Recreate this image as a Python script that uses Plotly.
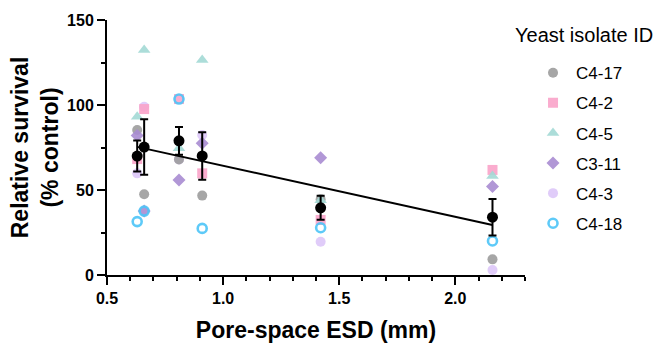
import numpy as np
import plotly.graph_objects as go

# ---- data ----
esd_mm = [0.63, 0.66, 0.81, 0.91, 1.42, 2.16]
isolate_ids = ["C4-17", "C4-2", "C4-5", "C3-11", "C4-3", "C4-18"]
c4_17 = [85.3, 47.5, 68.0, 46.7, 44.5, 9.2]
c4_2 = [68.2, 97.6, 103.5, 59.8, 32.4, 61.8]
c4_5 = [93.1, 132.4, 74.5, 126.5, 44.0, 58.2]
c3_11 = [82.0, 37.6, 55.9, 77.5, 69.0, 52.0]
c4_3 = [59.8, 99.0, 68.0, 82.4, 19.6, 2.9]
c4_18 = [31.4, 37.6, 103.5, 27.4, 27.8, 20.0]
x_ticks = [0.5, 1.0, 1.5, 2.0]
x_tick_labels = ["0.5", "1.0", "1.5", "2.0"]
y_ticks = [0, 50, 100, 150]

series = [c4_17, c4_2, c4_5, c3_11, c4_3, c4_18]
styles = [
    dict(symbol="circle", color="#9c9c9c", size=10),
    dict(symbol="square", color="#f9a3c9", size=10),
    dict(symbol="triangle-up", color="#a3d9d5", size=11),
    dict(symbol="diamond", color="#a98cd2", size=10),
    dict(symbol="circle", color="#ddc7f8", size=10),
    dict(symbol="circle-open", color="#4dc4f7", size=9, line=dict(width=2.6, color="#4dc4f7")),
]
draw_order = [4, 0, 1, 2, 3, 5]

FONT = "Liberation Sans, Arial, Helvetica, sans-serif"

fig = go.Figure()
for i in draw_order:
    fig.add_trace(go.Scatter(
        x=esd_mm, y=series[i], mode="markers", name=isolate_ids[i],
        legendgroup=isolate_ids[i], legendrank=i + 1,
        marker=dict(opacity=0.9, **styles[i]), cliponaxis=False,
    ))

arr = np.array(series)
means = arr.mean(axis=0)
sem = arr.std(axis=0, ddof=1) / np.sqrt(arr.shape[0])

# linear regression through all points
xs = np.tile(esd_mm, arr.shape[0])
slope, intercept = np.polyfit(xs, arr.flatten(), 1)
fit_x = np.array([min(esd_mm), max(esd_mm)])
fig.add_trace(go.Scatter(x=fit_x, y=slope * fit_x + intercept, mode="lines",
                         line=dict(color="black", width=2), showlegend=False))

fig.add_trace(go.Scatter(
    x=esd_mm, y=means, mode="markers", showlegend=False, cliponaxis=False,
    marker=dict(symbol="circle", color="black", size=11),
    error_y=dict(type="data", array=sem, color="black", thickness=2, width=4),
))

fig.add_annotation(text="Yeast isolate ID", x=0.971, y=0.941, xref="paper", yref="paper",
                   xanchor="left", yanchor="middle", showarrow=False,
                   font=dict(family=FONT, size=20, color="black"))

fig.update_layout(
    width=655, height=344,
    margin=dict(l=107, r=130, t=20, b=69, autoexpand=False),
    plot_bgcolor="white", paper_bgcolor="white",
    font=dict(family=FONT, color="black"),
    legend=dict(x=1.012, y=0.862, xanchor="left", yanchor="top",
                font=dict(family=FONT, size=17, color="black"),
                itemwidth=36, tracegroupgap=5, bgcolor="rgba(0,0,0,0)"),
    showlegend=True,
)
fig.update_xaxes(
    range=[0.5, 2.3], tickvals=x_ticks, ticktext=x_tick_labels, automargin=False,
    showline=True, linecolor="black", linewidth=2, showgrid=False, zeroline=False,
    ticks="outside", ticklen=8, tickwidth=2, tickcolor="black",
    tickfont=dict(family=FONT, size=16, weight=700),
    minor=dict(dtick=0.1, tick0=0.5, ticks="outside", ticklen=4, tickwidth=2, tickcolor="black"),
    title=dict(text="Pore-space ESD (mm)", font=dict(family=FONT, size=23, weight=700), standoff=16),
)
fig.update_yaxes(
    range=[0, 150], tickvals=y_ticks, automargin=False,
    showline=True, linecolor="black", linewidth=2, showgrid=False, zeroline=False,
    ticks="outside", ticklen=8, tickwidth=2, tickcolor="black",
    tickfont=dict(family=FONT, size=16, weight=700),
    minor=dict(dtick=25, tick0=0, ticks="outside", ticklen=4, tickwidth=2, tickcolor="black"),
    title=dict(text="Relative survival<br>(% control)", font=dict(family=FONT, size=23, weight=700), standoff=2),
)

fig.write_html("out.html", config={"displayModeBar": False},
               post_script="document.body.style.margin='0';")
